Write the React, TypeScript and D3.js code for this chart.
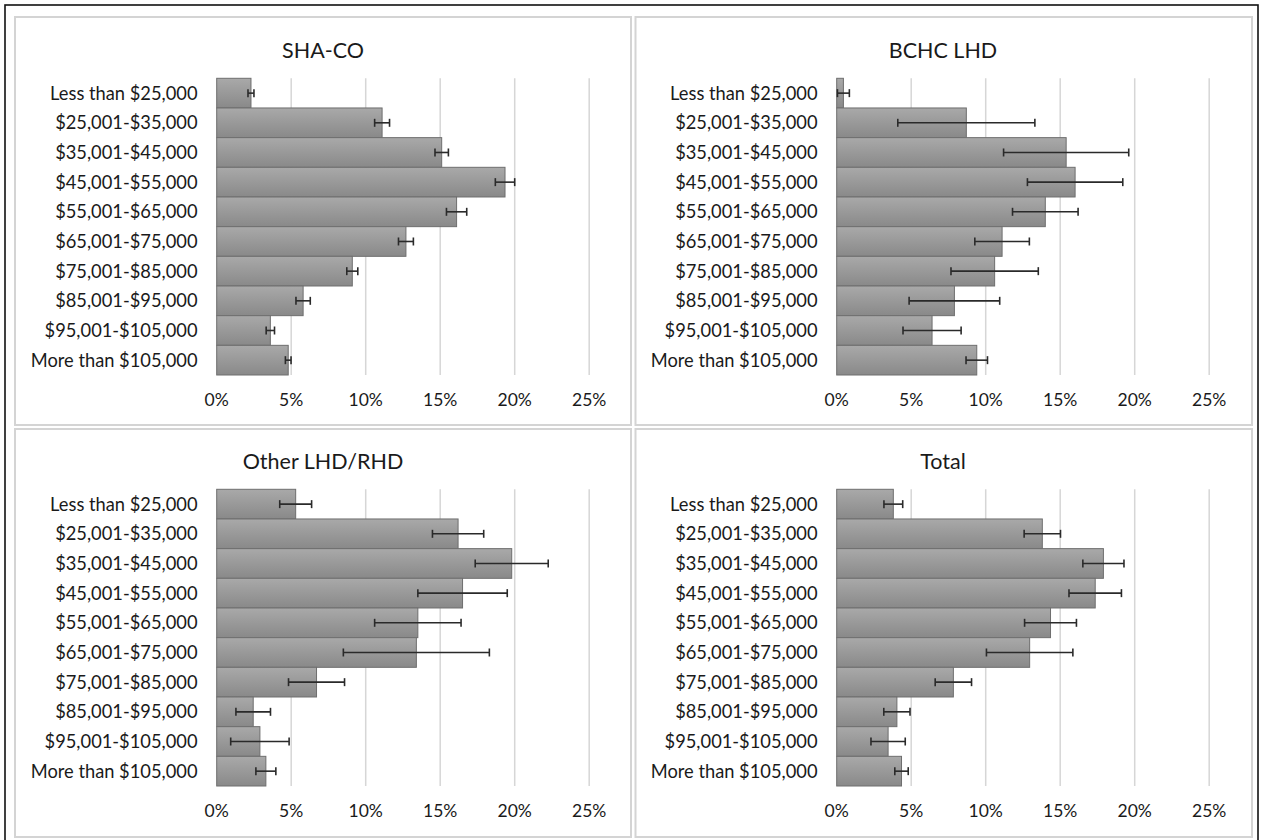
import React from "react";
import * as d3 from "d3";

const categories = [
  "Less than $25,000",
  "$25,001-$35,000",
  "$35,001-$45,000",
  "$45,001-$55,000",
  "$55,001-$65,000",
  "$65,001-$75,000",
  "$75,001-$85,000",
  "$85,001-$95,000",
  "$95,001-$105,000",
  "More than $105,000",
];

const panelTitles = ["SHA-CO", "BCHC LHD", "Other LHD/RHD", "Total"];

const shaValues = [2.3, 11.1, 15.1, 19.35, 16.1, 12.7, 9.1, 5.8, 3.6, 4.8];
const shaErrors = [0.2, 0.5, 0.45, 0.65, 0.68, 0.5, 0.37, 0.48, 0.28, 0.19];

const bchcValues = [0.45, 8.7, 15.4, 16.0, 14.0, 11.1, 10.6, 7.9, 6.4, 9.4];
const bchcErrors = [0.4, 4.6, 4.2, 3.2, 2.2, 1.83, 2.93, 3.04, 1.95, 0.72];

const otherValues = [5.3, 16.2, 19.8, 16.5, 13.5, 13.4, 6.7, 2.45, 2.9, 3.3];
const otherErrors = [1.07, 1.72, 2.45, 3.0, 2.9, 4.9, 1.88, 1.16, 1.96, 0.67];

const totalValues = [3.8, 13.8, 17.9, 17.35, 14.35, 12.95, 7.83, 4.04, 3.45, 4.35];
const totalErrors = [0.63, 1.22, 1.38, 1.76, 1.74, 2.9, 1.22, 0.88, 1.15, 0.45];

const tickValues = [0, 5, 10, 15, 20, 25];

const FONT = "Lato, 'Open Sans', sans-serif";

const panels = [
  { title: panelTitles[0], values: shaValues, errors: shaErrors, dx: 0, dy: 0 },
  { title: panelTitles[1], values: bchcValues, errors: bchcErrors, dx: 620, dy: 0 },
  { title: panelTitles[2], values: otherValues, errors: otherErrors, dx: 0, dy: 411 },
  { title: panelTitles[3], values: totalValues, errors: totalErrors, dx: 620, dy: 411 },
];

const frames = [
  { x: 15, y: 17, w: 616, h: 408 },
  { x: 635.5, y: 17, w: 616.5, h: 408 },
  { x: 15, y: 429, w: 616, h: 408 },
  { x: 635.5, y: 429, w: 616.5, h: 408 },
];

const x = d3.scaleLinear().domain([0, 25]).range([216.7, 589.2]);
const y = d3.scaleBand<string>().domain(categories).range([78.3, 375]).padding(0);

function Panel({ p }: { p: (typeof panels)[number] }) {
  const bw = y.bandwidth();
  return (
    <g transform={`translate(${p.dx},${p.dy})`}>
      <text
        x={323}
        y={58.3}
        textAnchor="middle"
        fontFamily={FONT}
        fontSize={21.5}
        fill="#1a1a1a"
      >
        {p.title}
      </text>
      {tickValues
        .filter((t) => t > 0)
        .map((t) => (
          <line
            key={"g" + t}
            x1={x(t)}
            x2={x(t)}
            y1={y.range()[0]}
            y2={y.range()[1]}
            stroke="#d6d6d6"
            strokeWidth={1.5}
          />
        ))}
      {categories.map((c, i) => (
        <rect
          key={"b" + c}
          x={x(0)}
          y={y(c)!}
          width={x(p.values[i]) - x(0)}
          height={bw}
          fill="url(#barGrad)"
          stroke="#6e6e6e"
          strokeWidth={1}
        />
      ))}
      {categories.map((c, i) => {
        const cy = y(c)! + bw / 2;
        const lo = x(Math.max(0, p.values[i] - p.errors[i]));
        const hi = x(p.values[i] + p.errors[i]);
        return (
          <g key={"e" + c} stroke="#2a2a2a" strokeWidth={1.6}>
            <line x1={lo} x2={hi} y1={cy} y2={cy} />
            <line x1={lo} x2={lo} y1={cy - 4} y2={cy + 4} />
            <line x1={hi} x2={hi} y1={cy - 4} y2={cy + 4} />
          </g>
        );
      })}
      {categories.map((c) => (
        <text
          key={"l" + c}
          x={197.5}
          y={y(c)! + bw / 2}
          dy="0.36em"
          textAnchor="end"
          fontFamily={FONT}
          fontSize={18.3}
          fill="#1a1a1a"
        >
          {c}
        </text>
      ))}
      {tickValues.map((t) => (
        <text
          key={"t" + t}
          x={x(t)}
          y={400}
          dy="0.36em"
          textAnchor="middle"
          fontFamily={FONT}
          fontSize={17.5}
          fill="#1a1a1a"
        >
          {`${t}%`}
        </text>
      ))}
    </g>
  );
}

export default function App() {
  return (
    <svg
      width={1262}
      height={840}
      style={{ position: "absolute", left: 0, top: 0, background: "#ffffff" }}
    >
      <defs>
        <linearGradient id="barGrad" x1="0" y1="0" x2="0" y2="1">
          <stop offset="0%" stopColor="#a9a9a9" />
          <stop offset="100%" stopColor="#898989" />
        </linearGradient>
      </defs>
      <rect x={0} y={0} width={1262} height={840} fill="#ffffff" />
      <rect x={5} y={5} width={1253} height={840} fill="none" stroke="#111" strokeWidth={1.6} />
      {frames.map((f, i) => (
        <rect
          key={"f" + i}
          x={f.x}
          y={f.y}
          width={f.w}
          height={f.h}
          fill="#ffffff"
          stroke="#d4d4d4"
          strokeWidth={2}
        />
      ))}
      {panels.map((p) => (
        <Panel key={p.title} p={p} />
      ))}
    </svg>
  );
}
